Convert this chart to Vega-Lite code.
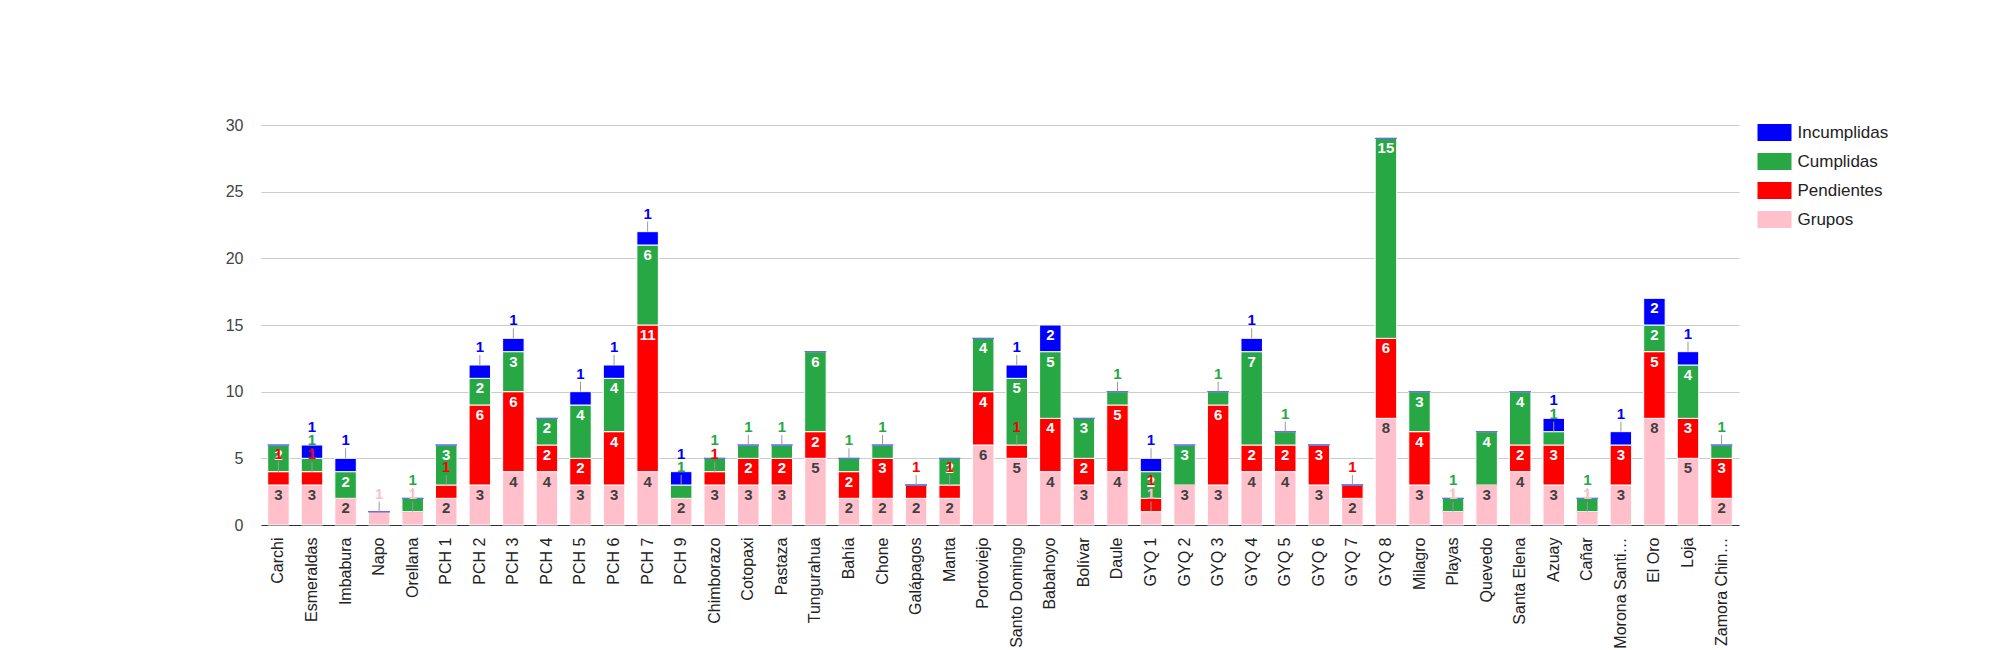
{
  "$schema": "https://vega.github.io/schema/vega-lite/v6.json",
  "width": 1478,
  "height": 400,
  "autosize": "none",
  "padding": {"left": 261, "top": 125, "right": 261, "bottom": 125},
  "background": "white",
  "data": {
    "values": [
      {"provincia": "Carchi", "Grupos": 3, "Pendientes": 1, "Cumplidas": 2, "Incumplidas": 0},
      {"provincia": "Esmeraldas", "Grupos": 3, "Pendientes": 1, "Cumplidas": 1, "Incumplidas": 1},
      {"provincia": "Imbabura", "Grupos": 2, "Pendientes": 0, "Cumplidas": 2, "Incumplidas": 1},
      {"provincia": "Napo", "Grupos": 1, "Pendientes": 0, "Cumplidas": 0, "Incumplidas": 0},
      {"provincia": "Orellana", "Grupos": 1, "Pendientes": 0, "Cumplidas": 1, "Incumplidas": 0},
      {"provincia": "PCH 1", "Grupos": 2, "Pendientes": 1, "Cumplidas": 3, "Incumplidas": 0},
      {"provincia": "PCH 2", "Grupos": 3, "Pendientes": 6, "Cumplidas": 2, "Incumplidas": 1},
      {"provincia": "PCH 3", "Grupos": 4, "Pendientes": 6, "Cumplidas": 3, "Incumplidas": 1},
      {"provincia": "PCH 4", "Grupos": 4, "Pendientes": 2, "Cumplidas": 2, "Incumplidas": 0},
      {"provincia": "PCH 5", "Grupos": 3, "Pendientes": 2, "Cumplidas": 4, "Incumplidas": 1},
      {"provincia": "PCH 6", "Grupos": 3, "Pendientes": 4, "Cumplidas": 4, "Incumplidas": 1},
      {"provincia": "PCH 7", "Grupos": 4, "Pendientes": 11, "Cumplidas": 6, "Incumplidas": 1},
      {"provincia": "PCH 9", "Grupos": 2, "Pendientes": 0, "Cumplidas": 1, "Incumplidas": 1},
      {"provincia": "Chimborazo", "Grupos": 3, "Pendientes": 1, "Cumplidas": 1, "Incumplidas": 0},
      {"provincia": "Cotopaxi", "Grupos": 3, "Pendientes": 2, "Cumplidas": 1, "Incumplidas": 0},
      {"provincia": "Pastaza", "Grupos": 3, "Pendientes": 2, "Cumplidas": 1, "Incumplidas": 0},
      {"provincia": "Tungurahua", "Grupos": 5, "Pendientes": 2, "Cumplidas": 6, "Incumplidas": 0},
      {"provincia": "Bahía", "Grupos": 2, "Pendientes": 2, "Cumplidas": 1, "Incumplidas": 0},
      {"provincia": "Chone", "Grupos": 2, "Pendientes": 3, "Cumplidas": 1, "Incumplidas": 0},
      {"provincia": "Galápagos", "Grupos": 2, "Pendientes": 1, "Cumplidas": 0, "Incumplidas": 0},
      {"provincia": "Manta", "Grupos": 2, "Pendientes": 1, "Cumplidas": 2, "Incumplidas": 0},
      {"provincia": "Portoviejo", "Grupos": 6, "Pendientes": 4, "Cumplidas": 4, "Incumplidas": 0},
      {"provincia": "Santo Domingo", "Grupos": 5, "Pendientes": 1, "Cumplidas": 5, "Incumplidas": 1},
      {"provincia": "Babahoyo", "Grupos": 4, "Pendientes": 4, "Cumplidas": 5, "Incumplidas": 2},
      {"provincia": "Bolívar", "Grupos": 3, "Pendientes": 2, "Cumplidas": 3, "Incumplidas": 0},
      {"provincia": "Daule", "Grupos": 4, "Pendientes": 5, "Cumplidas": 1, "Incumplidas": 0},
      {"provincia": "GYQ 1", "Grupos": 1, "Pendientes": 1, "Cumplidas": 2, "Incumplidas": 1},
      {"provincia": "GYQ 2", "Grupos": 3, "Pendientes": 0, "Cumplidas": 3, "Incumplidas": 0},
      {"provincia": "GYQ 3", "Grupos": 3, "Pendientes": 6, "Cumplidas": 1, "Incumplidas": 0},
      {"provincia": "GYQ 4", "Grupos": 4, "Pendientes": 2, "Cumplidas": 7, "Incumplidas": 1},
      {"provincia": "GYQ 5", "Grupos": 4, "Pendientes": 2, "Cumplidas": 1, "Incumplidas": 0},
      {"provincia": "GYQ 6", "Grupos": 3, "Pendientes": 3, "Cumplidas": 0, "Incumplidas": 0},
      {"provincia": "GYQ 7", "Grupos": 2, "Pendientes": 1, "Cumplidas": 0, "Incumplidas": 0},
      {"provincia": "GYQ 8", "Grupos": 8, "Pendientes": 6, "Cumplidas": 15, "Incumplidas": 0},
      {"provincia": "Milagro", "Grupos": 3, "Pendientes": 4, "Cumplidas": 3, "Incumplidas": 0},
      {"provincia": "Playas", "Grupos": 1, "Pendientes": 0, "Cumplidas": 1, "Incumplidas": 0},
      {"provincia": "Quevedo", "Grupos": 3, "Pendientes": 0, "Cumplidas": 4, "Incumplidas": 0},
      {"provincia": "Santa Elena", "Grupos": 4, "Pendientes": 2, "Cumplidas": 4, "Incumplidas": 0},
      {"provincia": "Azuay", "Grupos": 3, "Pendientes": 3, "Cumplidas": 1, "Incumplidas": 1},
      {"provincia": "Cañar", "Grupos": 1, "Pendientes": 0, "Cumplidas": 1, "Incumplidas": 0},
      {"provincia": "Morona Santiago", "Grupos": 3, "Pendientes": 3, "Cumplidas": 0, "Incumplidas": 1},
      {"provincia": "El Oro", "Grupos": 8, "Pendientes": 5, "Cumplidas": 2, "Incumplidas": 2},
      {"provincia": "Loja", "Grupos": 5, "Pendientes": 3, "Cumplidas": 4, "Incumplidas": 1},
      {"provincia": "Zamora Chinchipe", "Grupos": 2, "Pendientes": 3, "Cumplidas": 1, "Incumplidas": 0}
    ]
  },
  "transform": [
    {"fold": ["Grupos", "Pendientes", "Cumplidas", "Incumplidas"], "as": ["serie", "valor"]},
    {"calculate": "indexof(['Grupos', 'Pendientes', 'Cumplidas', 'Incumplidas'], datum.serie)", "as": "rango"},
    {"stack": "valor", "groupby": ["provincia"], "sort": [{"field": "rango", "order": "ascending"}], "as": ["v0", "v1"]}
  ],
  "encoding": {
    "x": {
      "field": "provincia",
      "type": "nominal",
      "sort": null,
      "title": null,
      "scale": {"paddingInner": 0.36, "paddingOuter": 0.2},
      "axis": {
        "labelAngle": -90,
        "labelFont": "Liberation Sans",
        "labelFontSize": 16,
        "labelColor": "#222222",
        "labelPadding": 12,
        "labelLimit": 112,
        "ticks": false,
        "domainColor": "#333333",
        "grid": false
      }
    }
  },
  "layer": [
    {
      "mark": {"type": "bar", "strokeWidth": 1},
      "encoding": {
        "y": {
          "field": "v1",
          "type": "quantitative",
          "title": null,
          "scale": {"domain": [0, 30], "nice": false},
          "axis": {
            "values": [0, 2.5, 5, 7.5, 10, 12.5, 15, 17.5, 20, 22.5, 25, 27.5, 30],
            "labelExpr": "datum.value % 5 === 0 ? datum.label : ''",
            "gridColor": {"condition": {"test": "datum.value % 5 === 0", "value": "#cccccc"}, "value": "#ebebeb"},
            "labelFont": "Liberation Sans",
            "labelFontSize": 16,
            "labelColor": "#444444",
            "labelPadding": 18,
            "ticks": false,
            "domain": false
          }
        },
        "y2": {"field": "v0"},
        "color": {
          "field": "serie",
          "type": "nominal",
          "scale": {
            "domain": ["Grupos", "Pendientes", "Cumplidas", "Incumplidas"],
            "range": ["#ffc0cb", "#ff0000", "#28a745", "#0000ff"]
          },
          "legend": {
            "orient": "none",
            "legendX": 1505,
            "legendY": -1,
            "title": null,
            "values": ["Incumplidas", "Cumplidas", "Pendientes", "Grupos"],
            "symbolType": "M-2,-1H2V1H-2Z",
            "symbolSize": 289,
            "symbolStrokeWidth": 0,
            "symbolOpacity": 1,
            "labelFont": "Liberation Sans",
            "labelFontSize": 17,
            "labelColor": "#222222",
            "labelOffset": 14.5,
            "rowPadding": 11,
            "padding": 0
          }
        },
        "stroke": {
          "condition": {"test": "datum.valor > 0", "value": "white"},
          "field": "serie",
          "type": "nominal",
          "scale": {
            "domain": ["Grupos", "Pendientes", "Cumplidas", "Incumplidas"],
            "range": ["#f4a0a8", "#ff6666", "#6cc47f", "#6666ff"]
          },
          "legend": null
        }
      }
    },
    {
      "transform": [{"filter": "datum.valor >= 2"}],
      "mark": {"type": "text", "font": "Liberation Sans", "fontSize": 15, "fontWeight": "bold", "baseline": "middle", "dy": 10},
      "encoding": {
        "y": {"field": "v1", "type": "quantitative"},
        "text": {"field": "valor", "type": "quantitative"},
        "color": {"condition": {"test": "datum.serie === 'Grupos'", "value": "#404040"}, "value": "white"}
      }
    },
    {
      "transform": [{"filter": "datum.valor === 1"}],
      "mark": {"type": "rule", "color": "#999999", "strokeWidth": 1, "y2Offset": -10},
      "encoding": {
        "y": {"field": "v1", "type": "quantitative"},
        "y2": {"field": "v1"}
      }
    },
    {
      "transform": [{"filter": "datum.valor === 1"}],
      "mark": {"type": "text", "font": "Liberation Sans", "fontSize": 15, "fontWeight": "bold", "baseline": "middle", "dy": -18},
      "encoding": {
        "y": {"field": "v1", "type": "quantitative"},
        "text": {"field": "valor", "type": "quantitative"},
        "color": {"field": "serie", "type": "nominal"}
      }
    }
  ],
  "config": {
    "view": {"stroke": null}
  }
}
